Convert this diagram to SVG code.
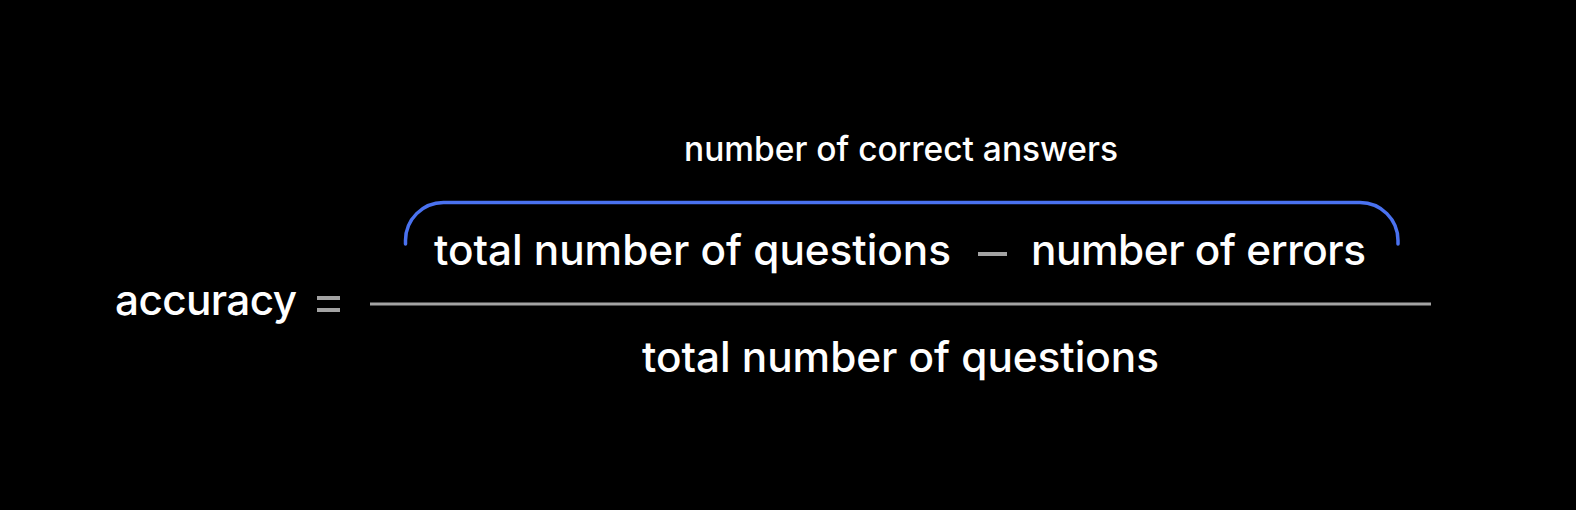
<svg xmlns="http://www.w3.org/2000/svg" width="1576" height="510" viewBox="0 0 1576 510">
<style>
.t{font-family:Inter,"Liberation Sans",sans-serif;fill:#ffffff;font-weight:500}
.big{font-size:42.3px}
.small{font-size:33.5px}
.gray{stroke:#a3a3a3;stroke-width:3;fill:none}
</style>
<rect width="1576" height="510" fill="#000"/>
<g id="accuracy"><text class="t big" x="115" y="315" textLength="182">accuracy</text></g>
<g id="equals"><rect x="317" y="296" width="23" height="4" fill="#a3a3a3"/><rect x="317" y="308" width="23" height="4" fill="#a3a3a3"/></g>
<g id="numerator">
<text class="t big" x="434" y="265" textLength="517">total number of questions</text>
<rect x="978" y="252" width="29" height="4" fill="#a3a3a3"/>
<text class="t big" x="1031" y="265" textLength="335">number of errors</text>
</g>
<g id="brace">
<path d="M405.5 244 V240.5 A38 38 0 0 1 443.5 202.5 H1360 A38 38 0 0 1 1398 240.5 V244" fill="none" stroke="#4a72f0" stroke-width="3.5" stroke-linecap="round"/>
<text class="t small" x="684" y="161" textLength="434">number of correct answers</text>
</g>
<g id="connectors"><line class="gray" x1="370" y1="304" x2="1431" y2="304"/></g>
<g id="denominator"><text class="t big" x="642" y="372" textLength="517">total number of questions</text></g>
</svg>
